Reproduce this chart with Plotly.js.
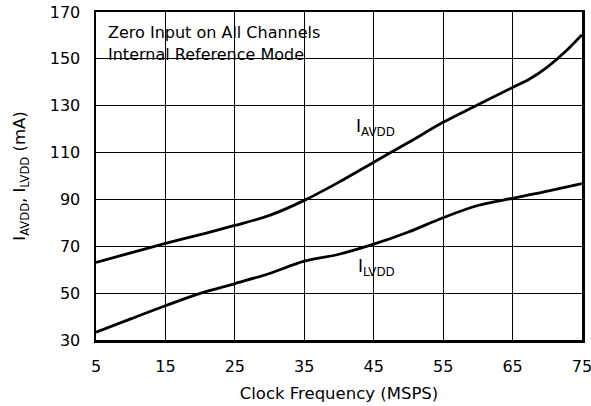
<!DOCTYPE html>
<html>
<head>
<meta charset="utf-8">
<script src="https://cdn.plot.ly/plotly-3.0.1.min.js"></script>
<style>html,body{margin:0;padding:0;background:#fff;}#chart{width:591px;height:406px;}</style>
</head>
<body>
<div id="chart"></div>
<script>
// Clock frequency (MSPS)
var freq = [5, 10, 15, 20, 25, 30, 35, 40, 45, 50, 55, 60, 65, 67.5, 70, 72.5, 75];
// Supply currents (mA)
var iAVDD = [63.1, 67.2, 71.2, 75.0, 78.9, 83.2, 89.6, 97.4, 105.9, 114.3, 122.9, 130.4, 137.8, 141.5, 146.5, 152.8, 160.3];
var iLVDD = [33.3, 39.0, 44.6, 49.9, 54.1, 58.4, 63.7, 66.6, 70.9, 76.1, 82.2, 87.4, 90.5, 92.0, 93.5, 95.1, 96.8];

var xTicks = [5, 15, 25, 35, 45, 55, 65, 75];
var yTicks = [30, 50, 70, 90, 110, 130, 150, 170];

var noteLines = ['Zero Input on All Channels', 'Internal Reference Mode'];
var seriesLabels = ['I<sub>AVDD</sub>', 'I<sub>LVDD</sub>'];
var xTitle = 'Clock Frequency (MSPS)';
var yTitle = 'I<sub>AVDD</sub>, I<sub>LVDD</sub> (mA)';

var FONT = 'DejaVu Sans, Arial, sans-serif';
var lineStyle = {color: '#000', width: 2.8, shape: 'spline', smoothing: 1};

var traces = [
  {x: freq, y: iAVDD, mode: 'lines', line: lineStyle, name: 'IAVDD', hoverinfo: 'skip'},
  {x: freq, y: iLVDD, mode: 'lines', line: lineStyle, name: 'ILVDD', hoverinfo: 'skip'}
];

var axisCommon = {
  showgrid: true, gridcolor: '#000', gridwidth: 1,
  showline: true, linecolor: '#000', linewidth: 2.5, mirror: 'ticks',
  ticks: 'inside', ticklen: 4, tickwidth: 1, tickcolor: '#000',
  zeroline: false, fixedrange: true, ticklabeloverflow: 'allow',
  tickfont: {family: FONT, size: 16, color: '#000'}
};

var layout = {
  width: 591, height: 406,
  margin: {l: 96, r: 9, t: 12, b: 66},
  paper_bgcolor: '#fff', plot_bgcolor: '#fff',
  showlegend: false,
  font: {family: FONT, color: '#000'},
  xaxis: Object.assign({}, axisCommon, {
    range: [5, 75], tickvals: xTicks, ticktext: xTicks.map(String),
    ticklabelstandoff: 10,
    title: {text: xTitle, font: {family: FONT, size: 16.5, color: '#000'}, standoff: 13}
  }),
  yaxis: Object.assign({}, axisCommon, {
    range: [30, 170], tickvals: yTicks, ticktext: yTicks.map(String),
    ticklabelstandoff: 10,
    title: {text: yTitle, font: {family: FONT, size: 16.5, color: '#000'}, standoff: 20}
  }),
  shapes: [
    {type: 'rect', xref: 'paper', yref: 'paper', x0: 0, x1: 0.479, y0: 0.811, y1: 1,
     fillcolor: '#fff', line: {width: 0}, layer: 'between'}
  ],
  annotations: [
    {xref: 'paper', yref: 'paper', x: 0.02, y: 0.939, xanchor: 'left', yanchor: 'middle',
     text: noteLines[0], showarrow: false, font: {family: FONT, size: 16, color: '#000'}},
    {xref: 'paper', yref: 'paper', x: 0.02, y: 0.869, xanchor: 'left', yanchor: 'middle',
     text: noteLines[1], showarrow: false, font: {family: FONT, size: 16, color: '#000'}},
    {xref: 'x', yref: 'y', x: 42.1, y: 120.9, xanchor: 'left', yanchor: 'middle',
     text: seriesLabels[0], showarrow: false, font: {family: FONT, size: 17, color: '#000'}},
    {xref: 'x', yref: 'y', x: 42.4, y: 60.9, xanchor: 'left', yanchor: 'middle',
     text: seriesLabels[1], showarrow: false, font: {family: FONT, size: 17, color: '#000'}}
  ]
};

Plotly.newPlot('chart', traces, layout, {staticPlot: true, displayModeBar: false});
</script>
</body>
</html>
